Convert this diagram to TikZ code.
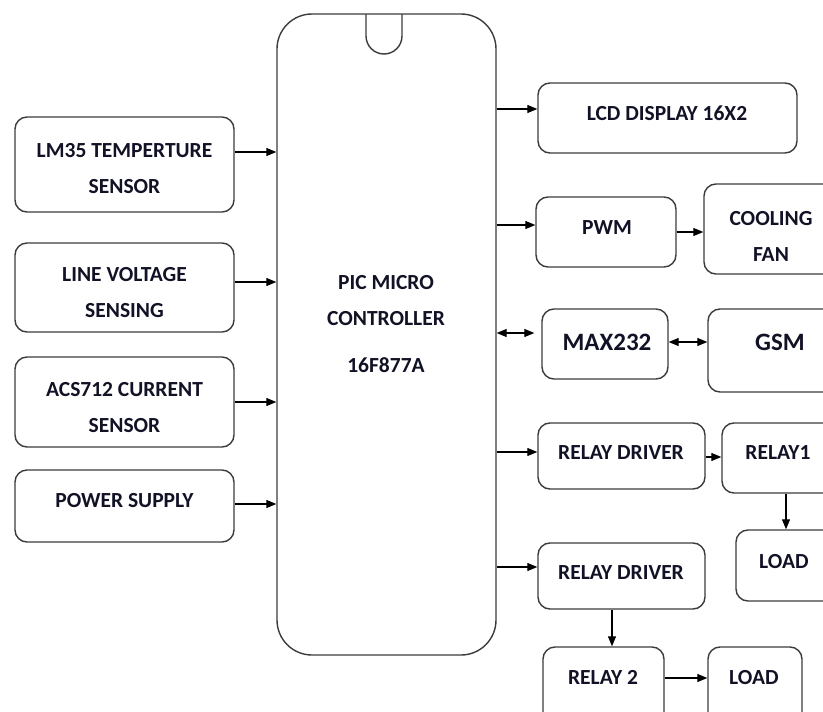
\documentclass[tikz,border=0pt]{standalone}
\usepackage{fontspec}
\setmainfont{Carlito}
\usetikzlibrary{arrows.meta}
\definecolor{txt}{RGB}{18,18,38}
\definecolor{edge}{RGB}{60,60,60}
\tikzset{
  box/.style={draw=edge, line width=1.4pt, rounded corners=12pt, rectangle, inner sep=0pt},
  lbl/.style={text=txt, font=\fontsize{21.5}{36}\selectfont\bfseries, align=center, inner sep=0pt},
  big/.style={text=txt, font=\fontsize{25}{30}\selectfont\bfseries, inner sep=0pt},
  arr/.style={draw=black, line width=1.1pt, -{Triangle[length=10pt,width=8pt]}},
  biarr/.style={draw=black, line width=1.1pt, {Triangle[length=10pt,width=8pt]}-{Triangle[length=10pt,width=8pt]}}
}
\begin{document}
\begin{tikzpicture}[x=1pt,y=-1pt]
\useasboundingbox (0,0) rectangle (823,712);
\fill[white] (0,0) rectangle (823,712);
\clip (0,0) rectangle (823,712);
% microcontroller
\node[box, rounded corners=35pt, minimum width=219pt, minimum height=641pt] (mcu) at (386.5,334.5) {};
\draw[draw=edge, line width=1.4pt] (366,14) -- (366,36) arc[start angle=180, end angle=360, radius=18pt] -- (402,14);
\node[lbl] (mcut) at (386,324.5) {PIC MICRO\\CONTROLLER\\[11pt]16F877A};
% left boxes
\node[box, minimum width=219pt, minimum height=95pt] (lm35) at (124.5,164.5) {};
\node[lbl] (lm35t) at (124.5,168.5) {LM35 TEMPERTURE\\SENSOR};
\node[box, minimum width=219pt, minimum height=89pt] (lv) at (124.5,287.5) {};
\node[lbl] (lvt) at (124.5,293) {LINE VOLTAGE\\SENSING};
\node[box, minimum width=219pt, minimum height=90pt] (acs) at (124.5,402) {};
\node[lbl] (acst) at (124.5,408) {ACS712 CURRENT\\SENSOR};
\node[box, minimum width=219pt, minimum height=72pt] (ps) at (124.5,506) {};
\node[lbl] (pst) at (124.5,501) {POWER SUPPLY};
% right boxes
\node[box, minimum width=259pt, minimum height=70pt] (lcd) at (667.5,118) {};
\node[lbl] (lcdt) at (667,113) {LCD DISPLAY 16X2};
\node[box, minimum width=140pt, minimum height=70pt] (pwm) at (606,232) {};
\node[lbl] (pwmt) at (607,228) {PWM};
\node[box, minimum width=146pt, minimum height=90pt] (fan) at (777,229) {};
\node[lbl] (fant) at (771,236) {COOLING\\FAN};
\node[box, minimum width=126pt, minimum height=70pt] (max) at (605,344) {};
\node[big] (maxt) at (607,342) {MAX232};
\node[box, minimum width=142pt, minimum height=83pt] (gsm) at (779,350.5) {};
\node[big] (gsmt) at (780,342) {GSM};
\node[box, minimum width=167pt, minimum height=66pt] (rd1) at (621.5,456) {};
\node[lbl] (rd1t) at (621,453) {RELAY DRIVER};
\node[box, minimum width=128pt, minimum height=70pt] (r1) at (786,458) {};
\node[lbl] (r1t) at (778,453) {RELAY1};
\node[box, minimum width=114pt, minimum height=71pt] (load1) at (793,565.5) {};
\node[lbl] (load1t) at (784,562) {LOAD};
\node[box, minimum width=167pt, minimum height=66pt] (rd2) at (621.5,576) {};
\node[lbl] (rd2t) at (621,573) {RELAY DRIVER};
\node[box, minimum width=121pt, minimum height=93pt] (r2) at (603.5,693.5) {};
\node[lbl] (r2t) at (603,677) {RELAY 2};
\node[box, minimum width=94pt, minimum height=93pt] (load2) at (755,693.5) {};
\node[lbl] (load2t) at (754,678) {LOAD};
% connectors
\draw[arr] (lm35.east |- 0,152) -- (mcu.west |- 0,152);
\draw[arr] (lv.east |- 0,282) -- (mcu.west |- 0,282);
\draw[arr] (acs.east |- 0,402) -- (mcu.west |- 0,402);
\draw[arr] (ps.east |- 0,504) -- (mcu.west |- 0,504);
\draw[arr] (mcu.east |- 0,109) -- (lcd.west |- 0,109);
\draw[arr] (mcu.east |- 0,225) -- (pwm.west |- 0,225);
\draw[biarr] (mcu.east |- 0,333) -- ([xshift=-7pt]max.west |- 0,333);
\draw[arr] (pwm.east |- 0,232) -- (fan.west |- 0,232);
\draw[biarr] (max.east |- 0,342) -- (gsm.west |- 0,342);
\draw[arr] (mcu.east |- 0,452) -- (rd1.west |- 0,452);
\draw[arr] (rd1.east |- 0,457) -- (r1.west |- 0,457);
\draw[arr] (r1.south) -- (r1.south |- load1.north);
\draw[arr] (mcu.east |- 0,567) -- (rd2.west |- 0,567);
\draw[arr] (rd2.south -| 612,0) -- (r2.north -| 612,0);
\draw[arr] (r2.east |- 0,678) -- (load2.west |- 0,678);
\end{tikzpicture}
\end{document}
